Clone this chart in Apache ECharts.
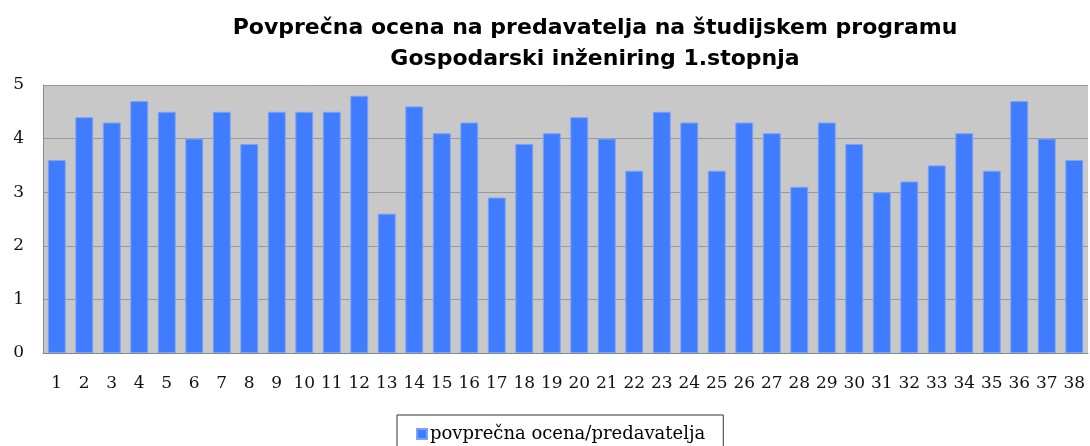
<!DOCTYPE html>
<html>
<head>
<meta charset="utf-8">
<script src="https://cdn.jsdelivr.net/npm/echarts@6/dist/echarts.min.js"></script>
<style>
  html, body { margin: 0; padding: 0; background: #fff; }
  #chart { width: 1090px; height: 446px; }
</style>
</head>
<body>
<div id="chart"></div>
<script type="text/javascript">
// podatki
var categories = ['1','2','3','4','5','6','7','8','9','10','11','12','13','14','15','16','17','18','19',
                  '20','21','22','23','24','25','26','27','28','29','30','31','32','33','34','35','36','37','38'];
var ocene = [3.6, 4.4, 4.3, 4.7, 4.5, 4.0, 4.5, 3.9, 4.5, 4.5, 4.5, 4.8, 2.6, 4.6, 4.1, 4.3, 2.9, 3.9, 4.1,
             4.4, 4.0, 3.4, 4.5, 4.3, 3.4, 4.3, 4.1, 3.1, 4.3, 3.9, 3.0, 3.2, 3.5, 4.1, 3.4, 4.7, 4.0, 3.6];
var seriesName = 'povprečna ocena/predavatelja';
var yTicks = [0, 1, 2, 3, 4, 5];

var myChart = echarts.init(document.getElementById('chart'));
var serif = '"DejaVu Serif", "Liberation Serif", serif';

var option = {
    backgroundColor: '#ffffff',
    animation: false,
    title: {
        text: 'Povprečna ocena na predavatelja na študijskem programu\nGospodarski inženiring 1.stopnja',
        left: 590,
        top: 8,
        textAlign: 'center',
        textStyle: {
            fontFamily: '"DejaVu Sans", "Liberation Sans", sans-serif',
            fontWeight: 'bold',
            fontSize: 22,
            lineHeight: 31,
            color: '#000'
        }
    },
    legend: {
        data: [seriesName],
        left: 397,
        top: 415,
        padding: [10, 18, 14, 19],
        borderColor: '#333',
        borderWidth: 1,
        itemWidth: 10,
        itemHeight: 10,
        itemGap: 2,
        icon: 'rect',
        textStyle: {
            fontFamily: serif,
            fontSize: 18,
            color: '#000',
            padding: [0, 0, 0, -2]
        }
    },
    grid: {
        left: 43,
        right: 2,
        top: 85,
        bottom: 93,
        containLabel: false,
        show: true,
        backgroundColor: '#c8c8c8',
        borderWidth: 0
    },
    xAxis: {
        type: 'category',
        data: categories,
        axisLine: { show: true, lineStyle: { color: '#888', width: 1 } },
        axisTick: { show: false },
        axisLabel: {
            interval: 0,
            margin: 22,
            fontFamily: serif,
            fontSize: 17,
            color: '#111'
        }
    },
    yAxis: {
        type: 'value',
        min: yTicks[0],
        max: yTicks[yTicks.length - 1],
        interval: 1,
        axisLine: { show: true, lineStyle: { color: '#888', width: 1 } },
        axisTick: { show: false },
        splitLine: { show: true, lineStyle: { color: '#999', width: 1 } },
        axisLabel: {
            margin: 19,
            fontFamily: serif,
            fontSize: 17,
            color: '#111'
        }
    },
    series: [{
        name: seriesName,
        type: 'bar',
        data: ocene,
        barCategoryGap: '35%',
        itemStyle: {
            color: '#407cff',
            borderColor: '#7aa3f5',
            borderWidth: 1
        }
    }]
};
myChart.setOption(option);
</script>
</body>
</html>
